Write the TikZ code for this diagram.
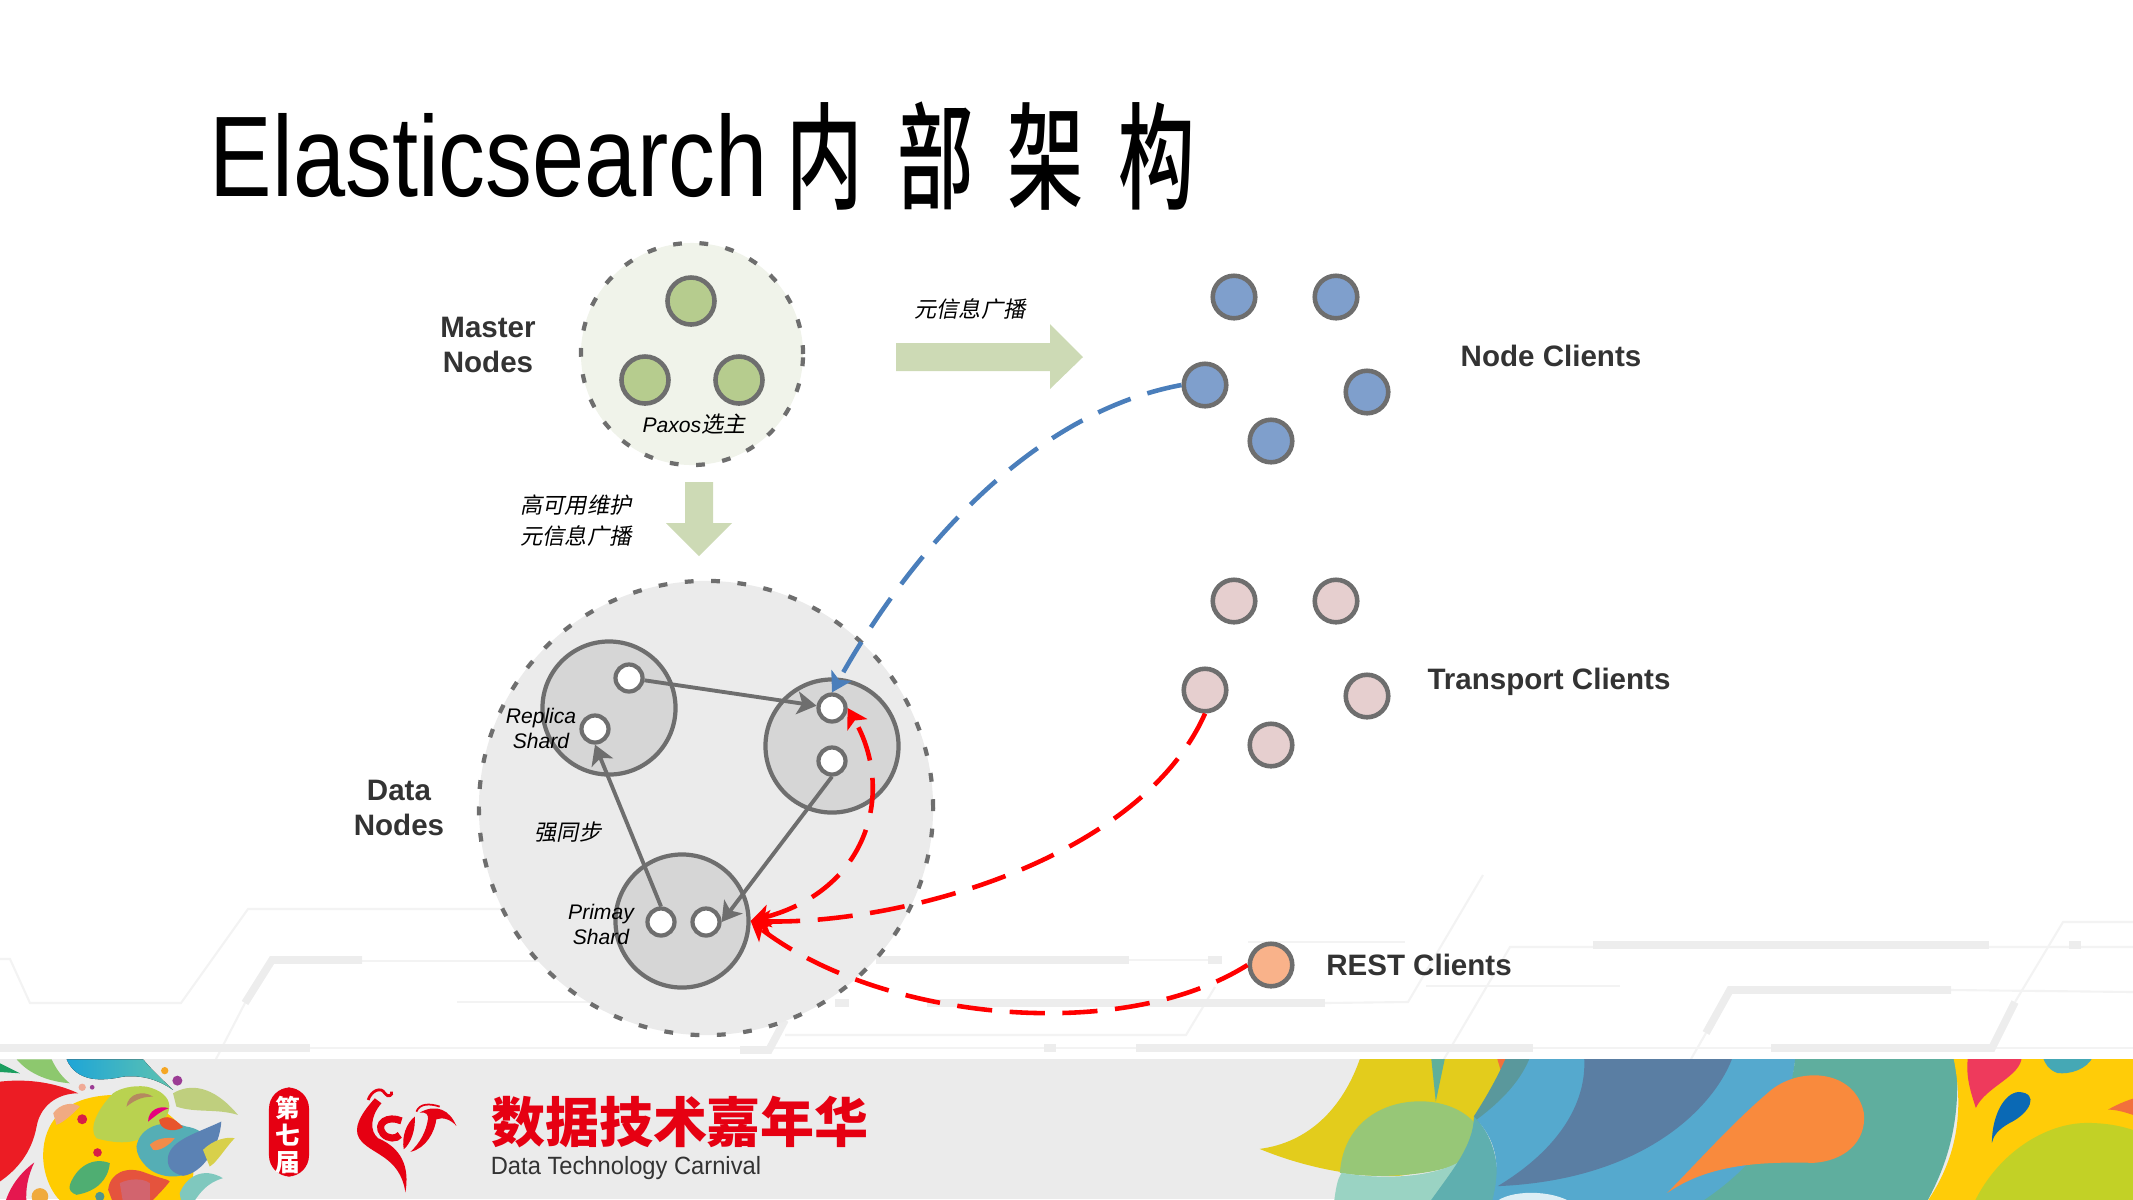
\documentclass[tikz,border=0pt]{standalone}
\usepackage{fontspec}
\setmainfont{Liberation Sans}
\newfontfamily\cjk{Noto Sans CJK SC}
\newfontfamily\cjkmed{Noto Sans CJK SC Medium}
\newfontfamily\cjkit[FakeSlant=0.2]{Noto Sans CJK SC}
\usetikzlibrary{arrows.meta}
\definecolor{edgegray}{HTML}{6E6E6E}
\definecolor{inkdark}{HTML}{333333}
\definecolor{circuit}{HTML}{EDEDED}
\definecolor{circuitthin}{HTML}{F3F3F3}
\definecolor{arrowgreen}{HTML}{CDDAB5}
\definecolor{linkblue}{HTML}{4A7EBB}
\definecolor{brandred}{HTML}{E60012}
\tikzstyle{cluster} = [circle, inner sep=0pt, dash pattern=on 2.5pt off 5pt, line width=1.2pt, draw=edgegray]
\tikzstyle{shardbox} = [circle, inner sep=0pt, minimum size=1.33cm, line width=1.2pt, draw=edgegray, fill=black!16]
\tikzstyle{replica} = [circle, inner sep=0pt, minimum size=.27cm, line width=1.2pt, draw=edgegray, fill=white]
\tikzstyle{member} = [circle, inner sep=0pt, minimum size=.425cm, line width=1.3pt, draw=edgegray]
\tikzstyle{leader} = [member, minimum size=.47cm, fill={rgb,255:red,182;green,204;blue,142}]
\tikzstyle{boldtxt} = [font=\fontsize{8.4}{10.2}\selectfont\bfseries, text=inkdark, align=center, inner sep=0pt]
\tikzstyle{ittxt} = [font=\fontsize{6}{7.1}\selectfont\itshape, text=black, align=center, inner sep=0pt]
\tikzstyle{sync} = [line width=1.1pt, draw=edgegray, -{Stealth[length=5.5pt,width=6.5pt,inset=1.4pt]}]
\tikzstyle{request} = [line width=1.3pt, draw=red, dash pattern=on 10pt off 5pt, -{Stealth[length=5.5pt,width=6.5pt,inset=1.4pt]}]
\tikzstyle{thinline} = [draw=circuitthin, line width=.6pt]
\tikzstyle{thickline} = [draw=circuit, line width=2.2pt]
\newcommand{\itcn}[1]{{\fontsize{6.3}{7.1}\selectfont\cjkit #1}}
\begin{document}
\begin{tikzpicture}[x=.01cm, y=-.01cm]
	\useasboundingbox (0,0) rectangle (2133,1199);
	%----------------------------------------------------%
	% circuit lines behind everything
	\draw[thinline] (0,959) -- (10,959) -- (30,1003) -- (181,1003) -- (248,909) -- (620,909);
	\draw[thinline] (362,961) -- (640,961);
	\draw[thinline] (245,1003) -- (216,1059);
	\draw[thinline] (457,1002) -- (640,1002);
	\draw[thinline] (0,1048) -- (2133,1048);
	\draw[thinline] (785,1035) -- (1186,1035) -- (1215,987);
	\draw[thinline] (1129,960) -- (1208,960);
	\draw[thinline] (1248,942) -- (1405,942);
	\draw[thinline] (1325,1003) -- (1408,1002) -- (1483,875);
	\draw[thinline] (2133,947) -- (1510,947) -- (1444,1059);
	\draw[thinline] (1426,986) -- (1620,986);
	\draw[thinline] (1951,990) -- (2133,992);
	\draw[thinline] (1706,1033) -- (1691,1059);
	\draw[thinline] (2133,922) -- (2063,922) -- (2015,1002);
	\draw[thickline] (245,1003) -- (272,960) -- (362,960);
	\draw[thickline] (0,1048) -- (310,1048);
	\draw[thickline] (740,1050) -- (769,1050) -- (785,1020);
	\draw[thickline] (876,960) -- (1129,960);
	\draw[thickline] (835,1003) -- (849,1003);
	\draw[thickline] (927,1003) -- (1325,1003);
	\draw[thickline] (1208,960) -- (1222,960);
	\draw[thickline] (1044,1048) -- (1056,1048);
	\draw[thickline] (1136,1048) -- (1533,1048);
	\draw[thickline] (1593,945) -- (1989,945);
	\draw[thickline] (2069,945) -- (2081,945);
	\draw[thickline] (1706,1033) -- (1730,990) -- (1951,990);
	\draw[thickline] (2015,1002) -- (1992,1048) -- (1771,1048);
	%----------------------------------------------------%
	% footer band
	\fill[black!8] (0,1059) rectangle (2133,1199);
	\begin{scope}
		\clip (0,1059) rectangle (2133,1199);
		% left artwork, in crop coordinates
		\begin{scope}[shift={(0,1050)}, x=.00333cm, y=-.00333cm]
			\fill[color={rgb,255:red,255;green,204;blue,0}] (340,135) .. controls (170,140) and (125,240) .. (130,330) .. controls (135,400) and (170,447) .. (190,460) -- (560,460) .. controls (620,300) and (560,160) .. (340,135) -- cycle;
			\fill[color={rgb,255:red,185;green,210;blue,80}] (340,130) .. controls (290,180) and (265,240) .. (290,265) .. controls (340,280) and (420,290) .. (450,240) .. controls (530,200) and (530,130) .. (440,110) .. controls (400,105) and (360,115) .. (340,130) -- cycle;
			\fill[color={rgb,255:red,27;green,158;blue,95}] (0,40) -- (60,70) -- (0,66) -- cycle;
			\fill[color={rgb,255:red,141;green,200;blue,110}] (50,28) -- (155,28) .. controls (170,60) and (190,85) .. (210,100) .. controls (150,95) and (90,75) .. (50,28) -- cycle;
			\fill[left color={rgb,255:red,30;green,165;blue,215}, right color={rgb,255:red,95;green,195;blue,175}] (200,28) -- (430,28) .. controls (465,70) and (495,95) .. (520,120) .. controls (470,85) and (420,75) .. (370,80) .. controls (300,95) and (230,95) .. (200,28) -- cycle;
			\fill[color={rgb,255:red,236;green,28;blue,36}] (0,95) .. controls (90,85) and (170,100) .. (235,130) .. controls (170,130) and (120,170) .. (110,230) .. controls (95,310) and (50,360) .. (0,395) -- cycle;
			\fill[color={rgb,255:red,229;green,23;blue,79}] (103,338) .. controls (60,370) and (30,410) .. (15,460) -- (80,460) .. controls (75,420) and (85,375) .. (103,338) -- cycle;
			\fill[color={rgb,255:red,240;green,170;blue,130}] (160,190) .. controls (180,160) and (220,155) .. (240,170) .. controls (220,190) and (195,215) .. (170,225) -- cycle;
			\fill[color={rgb,255:red,191;green,207;blue,126}] (520,130) .. controls (570,100) and (640,105) .. (715,195) .. controls (650,175) and (590,190) .. (530,170) -- cycle;
			\fill[color={rgb,255:red,85;green,174;blue,181}] (410,290) .. controls (420,230) and (490,205) .. (560,230) .. controls (630,240) and (650,300) .. (590,350) .. controls (560,390) and (480,390) .. (440,350) .. controls (420,330) and (410,310) .. (410,290) -- cycle;
			\fill[color={rgb,255:red,91;green,130;blue,180}] (505,320) .. controls (515,270) and (590,250) .. (665,215) .. controls (660,290) and (610,370) .. (550,378) .. controls (515,370) and (500,350) .. (505,320) -- cycle;
			\fill[color={rgb,255:red,216;green,208;blue,74}] (610,300) .. controls (640,270) and (680,260) .. (705,265) .. controls (680,290) and (650,340) .. (630,350) -- cycle;
			\fill[color={rgb,255:red,127;green,200;blue,190}] (540,430) .. controls (560,380) and (610,350) .. (670,385) .. controls (620,400) and (600,430) .. (580,460) -- (545,460) -- cycle;
			\fill[color={rgb,255:red,229;green,83;blue,61}] (325,420) .. controls (330,370) and (380,345) .. (440,370) .. controls (480,385) and (510,390) .. (510,395) .. controls (490,420) and (470,440) .. (450,460) -- (340,460) -- cycle;
			\fill[color={rgb,255:red,210;green,100;blue,110}] (360,400) .. controls (390,385) and (430,385) .. (450,400) -- (450,460) -- (370,460) -- cycle;
			\fill[color={rgb,255:red,79;green,174;blue,114}] (210,405) .. controls (230,350) and (280,320) .. (330,340) .. controls (325,390) and (290,425) .. (230,435) .. controls (215,430) and (205,420) .. (210,405) -- cycle;
			\fill[color={rgb,255:red,230;green,0;blue,126}] (445,215) .. controls (445,180) and (480,165) .. (507,175) .. controls (480,185) and (465,200) .. (445,215) -- cycle;
			\fill[color={rgb,255:red,232;green,85;blue,45}] (478,210) .. controls (500,195) and (520,200) .. (550,232) .. controls (520,250) and (480,240) .. (478,210) -- cycle;
			\fill[color={rgb,255:red,242;green,140;blue,74}] (450,285) .. controls (470,265) and (500,262) .. (525,265) .. controls (510,285) and (480,305) .. (460,300) -- cycle;
			\fill[color={rgb,255:red,181;green,137;blue,95}] (380,170) .. controls (385,130) and (430,120) .. (460,140) .. controls (420,140) and (400,155) .. (380,170) -- cycle;
			\fill[color={rgb,255:red,245;green,166;blue,35}] (495,62) circle (11);
			\fill[color={rgb,255:red,155;green,60;blue,148}] (533,92) circle (15);
			\fill[color={rgb,255:red,216;green,30;blue,70}] (247,208) circle (15);
			\fill[color={rgb,255:red,216;green,30;blue,70}] (293,308) circle (13);
			\fill[color={rgb,255:red,240;green,170;blue,150}] (247,112) circle (11);
			\fill[color={rgb,255:red,155;green,60;blue,148}] (277,112) circle (7);
			\fill[color={rgb,255:red,80;green,150;blue,140}] (300,440) circle (14);
			\fill[color={rgb,255:red,240;green,170;blue,60}] (120,440) circle (25);
		\end{scope}
		% right artwork, in crop coordinates
		\begin{scope}[shift={(1200,860)}, x=.00595cm, y=-.00333cm]
			\fill[color={rgb,255:red,227;green,204;blue,28}] (270,590) .. controls (240,750) and (180,850) .. (100,868) .. controls (170,920) and (250,950) .. (320,950) .. controls (430,950) and (480,750) .. (520,590) -- cycle;
			\fill[color={rgb,255:red,95;green,176;blue,154}] (388,590) -- (412,590) -- (396,726) -- cycle;
			\fill[color={rgb,255:red,242;green,112;blue,60}] (498,590) -- (522,590) -- (505,632) -- cycle;
			\fill[color={rgb,255:red,151;green,199;blue,119}] (235,940) .. controls (240,800) and (300,725) .. (370,725) .. controls (440,725) and (490,810) .. (470,880) .. controls (420,950) and (300,960) .. (235,940) -- cycle;
			\fill[color={rgb,255:red,154;green,211;blue,195}] (225,1030) .. controls (228,990) and (230,960) .. (238,940) .. controls (300,960) and (400,960) .. (450,890) -- (500,1030) -- cycle;
			\fill[color={rgb,255:red,95;green,175;blue,175}] (385,1030) .. controls (420,940) and (460,860) .. (460,770) .. controls (495,830) and (510,940) .. (490,1030) -- cycle;
			\fill[color={rgb,255:red,90;green,152;blue,156}] (515,590) -- (560,590) -- (540,700) -- (470,790) -- (460,770) .. controls (485,700) and (500,650) .. (515,590) -- cycle;
			\fill[color={rgb,255:red,85;green,169;blue,206}] (555,590) -- (1000,590) .. controls (990,800) and (930,930) .. (850,1030) -- (490,1030) .. controls (510,900) and (490,830) .. (465,780) .. controls (510,720) and (540,660) .. (555,590) -- cycle;
			\fill[color={rgb,255:red,90;green,126;blue,163}] (645,590) -- (895,590) .. controls (870,720) and (760,960) .. (500,980) .. controls (620,850) and (650,700) .. (645,590) -- cycle;
			\fill[color={rgb,255:red,95;green,174;blue,158}] (1000,590) -- (1270,590) .. controls (1280,800) and (1250,930) .. (1220,1030) -- (840,1030) .. controls (950,900) and (990,760) .. (1000,590) -- cycle;
			\fill[color={rgb,255:red,249;green,138;blue,61}] (785,1000) .. controls (850,880) and (900,780) .. (960,690) .. controls (1010,620) and (1100,630) .. (1115,760) .. controls (1120,850) and (1080,905) .. (1030,910) .. controls (930,905) and (850,920) .. (785,1000) -- cycle;
			\fill[color={rgb,255:red,255;green,204;blue,8}] (1265,590) -- (1580,590) -- (1580,1030) -- (1220,1030) .. controls (1270,900) and (1285,760) .. (1265,590) -- cycle;
			\fill[color={rgb,255:red,194;green,209;blue,38}] (1300,1030) .. controls (1340,880) and (1420,790) .. (1490,790) .. controls (1530,790) and (1560,805) .. (1580,820) -- (1580,1030) -- cycle;
			\fill[color={rgb,255:red,238;green,58;blue,92}] (1290,590) -- (1380,590) .. controls (1380,650) and (1320,680) .. (1303,745) .. controls (1295,700) and (1285,650) .. (1290,590) -- cycle;
			\fill[color={rgb,255:red,10;green,105;blue,181}] (1330,850) .. controls (1330,770) and (1350,700) .. (1375,697) .. controls (1410,700) and (1395,760) .. (1360,790) .. controls (1340,810) and (1332,830) .. (1330,850) -- cycle;
			\fill[color={rgb,255:red,69;green,168;blue,181}] (1415,590) -- (1500,590) .. controls (1490,630) and (1460,645) .. (1440,640) .. controls (1425,630) and (1420,615) .. (1415,590) -- cycle;
			\fill[color={rgb,255:red,242;green,112;blue,60}] (1525,750) .. controls (1545,730) and (1560,720) .. (1580,710) -- (1580,775) .. controls (1560,760) and (1540,750) .. (1525,750) -- cycle;
			\fill[color={rgb,255:red,221;green,238;blue,245}] (495,1030) .. controls (520,990) and (590,990) .. (625,1030) -- cycle;
		\end{scope}
	\end{scope}
	% phoenix mark, in crop coordinates
	\begin{scope}[shift={(260,1060)}, x=.00333cm, y=-.00333cm, brandred]
		\fill (345,115) .. controls (300,165) and (280,205) .. (298,235) .. controls (330,285) and (420,285) .. (437,398) .. controls (450,320) and (425,265) .. (355,235) .. controls (330,215) and (330,170) .. (365,130) -- cycle;
		\draw[line width=.8pt] (325,120) .. controls (335,90) and (365,80) .. (375,100) .. controls (385,115) and (400,105) .. (395,95);
		\draw[line width=2pt] (425,183) .. controls (385,165) and (345,190) .. (370,222) .. controls (385,238) and (410,238) .. (420,225);
		\fill (465,170) .. controls (440,190) and (425,230) .. (432,268) .. controls (455,250) and (468,205) .. (465,170) -- cycle;
		\fill (590,198) .. controls (570,150) and (530,130) .. (480,158) .. controls (500,155) and (505,165) .. (505,175) .. controls (500,215) and (480,250) .. (452,276) .. controls (500,265) and (525,215) .. (530,178) .. controls (550,170) and (575,180) .. (590,198) -- cycle;
		\draw[line width=.5pt] (470,155) .. controls (480,130) and (510,130) .. (540,140);
	\end{scope}
	\node(badge) [rectangle, rounded corners=6pt, fill=brandred, minimum width=.4cm, minimum height=.89cm, inner sep=0pt] at (289,1132) {};
	\node(badgetxt) [font=\fontsize{7}{7.6}\selectfont\bfseries, text=white, align=center, inner sep=0pt] at (288,1135) {\cjk 第\\\cjk 七\\\cjk 届};
	\node(brand) [font=\fontsize{15.35}{16}\selectfont\bfseries, text=brandred, inner sep=0pt] at (680,1122) {\cjk 数据技术嘉年华};
	\node(brandeng) [font=\fontsize{7.1}{8}\selectfont, text=black!80, inner sep=0pt] at (626,1168) {\scalebox{.95}[1]{Data Technology Carnival}};
	%----------------------------------------------------%
	% title
	\node(title) [anchor=base west, font=\fontsize{32.6}{34}\selectfont, inner sep=0pt] at (209,196) {\scalebox{.818}[1]{Elasticsearch}};
	\node(titlecn) [font=\fontsize{33}{34}\selectfont, inner sep=0pt] at (991,156) {\scalebox{.66}[1]{\cjkmed 内\hspace{14.6pt}部\hspace{14.6pt}架\hspace{14.6pt}构}};
	%----------------------------------------------------%
	% master nodes
	\node(master) [cluster, minimum size=2.22cm, fill={rgb,255:red,240;green,243;blue,234}] at (692,354) {};
	\node(m1) [leader] at (691,301) {};
	\node(m2) [leader] at (645,380) {};
	\node(m3) [leader] at (739,380) {};
	\node(paxos) [ittxt] at (694,424) {Paxos\itcn{选主}};
	\node(masterlab) [boldtxt] at (488,345) {Master\\Nodes};
	\fill[arrowgreen] (896,343) -- (1050,343) -- (1050,324) -- (1083,357) -- (1050,389) -- (1050,371) -- (896,371) -- cycle;
	\fill[arrowgreen] (685,482) -- (713,482) -- (713,523) -- (732,523) -- (699,556) -- (666,523) -- (685,523) -- cycle;
	\node(metaright) [ittxt] at (970,309) {\itcn{元信息广播}};
	\node(metadown) [ittxt, font=\fontsize{6}{8.8}\selectfont] at (576,521) {\itcn{高可用维护}\\\itcn{元信息广播}};
	%----------------------------------------------------%
	% data nodes
	\node(data) [cluster, minimum size=4.54cm, fill=black!8] at (706,808) {};
	\node(sharda) [shardbox] at (609,708) {};
	\node(shardb) [shardbox] at (832,746) {};
	\node(shardc) [shardbox] at (682,921) {};
	\node(a1) [replica] at (629,678) {};
	\node(a2) [replica] at (595,729) {};
	\node(b1) [replica] at (832,708) {};
	\node(b2) [replica] at (832,761) {};
	\node(c1) [replica] at (661,922) {};
	\node(c2) [replica] at (706,922) {};
	\draw[sync] (a1) -- (b1);
	\draw[sync] (b2.south) -- (c2.east);
	\draw[sync] (c1.north) -- (a2.south);
	\node(replicalab) [ittxt] at (541,728) {Replica\\Shard};
	\node(primarylab) [ittxt] at (601,924) {Primay\\Shard};
	\node(strong) [ittxt] at (568,832) {\itcn{强同步}};
	\node(datalab) [boldtxt] at (399,808) {Data\\Nodes};
	%----------------------------------------------------%
	% clients
	\node(n1) [member, fill={rgb,255:red,127;green,159;blue,204}] at (1234,297) {};
	\node(n2) [member, fill={rgb,255:red,127;green,159;blue,204}] at (1336,297) {};
	\node(n3) [member, fill={rgb,255:red,127;green,159;blue,204}] at (1205,385) {};
	\node(n4) [member, fill={rgb,255:red,127;green,159;blue,204}] at (1367,392) {};
	\node(n5) [member, fill={rgb,255:red,127;green,159;blue,204}] at (1271,441) {};
	\node(nodelab) [boldtxt] at (1551,356) {Node Clients};
	\node(t1) [member, fill={rgb,255:red,230;green,207;blue,207}] at (1234,601) {};
	\node(t2) [member, fill={rgb,255:red,230;green,207;blue,207}] at (1336,601) {};
	\node(t3) [member, fill={rgb,255:red,230;green,207;blue,207}] at (1205,690) {};
	\node(t4) [member, fill={rgb,255:red,230;green,207;blue,207}] at (1367,696) {};
	\node(t5) [member, fill={rgb,255:red,230;green,207;blue,207}] at (1271,745) {};
	\node(translab) [boldtxt] at (1549,682) {Transport Clients};
	\node(rest) [member, fill={rgb,255:red,249;green,178;blue,138}] at (1271,965) {};
	\node(restlab) [boldtxt] at (1419,965) {REST Clients};
	%----------------------------------------------------%
	\draw[request, draw=linkblue] (n3.west) .. controls (1020,415) and (900,570) .. (b1.north);
	\draw[request] (t3.south) .. controls (1140,860) and (900,925) .. (shardc.east);
	\draw[request] (rest.west) .. controls (1120,1045) and (880,1020) .. (shardc.east);
	\draw[request, {Stealth[length=5.5pt,width=6.5pt,inset=1.4pt]}-{Stealth[length=5.5pt,width=6.5pt,inset=1.4pt]}] (shardc.east) .. controls (870,890) and (895,790) .. (b1.east);
\end{tikzpicture}
\end{document}
